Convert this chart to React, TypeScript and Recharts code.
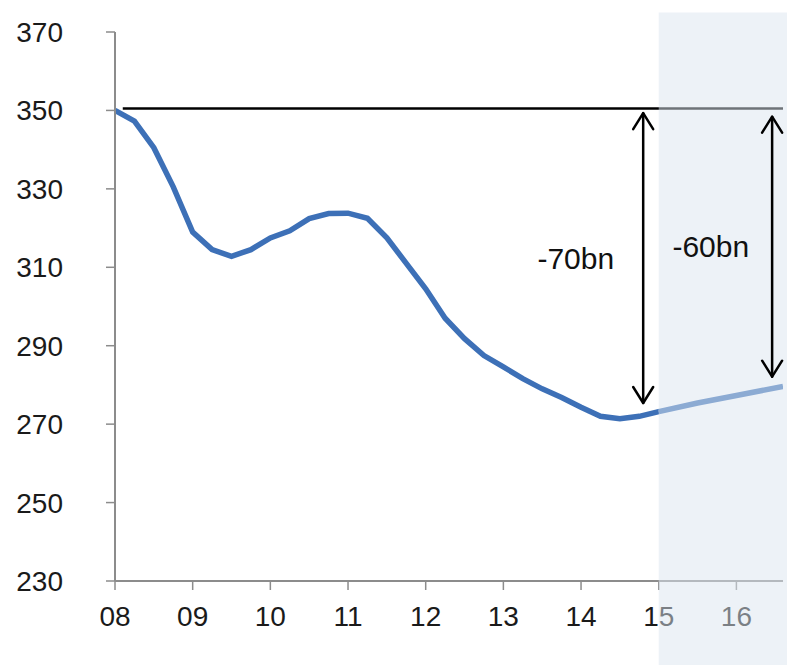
import { LineChart, Line, XAxis, YAxis, ReferenceArea, ReferenceLine } from "recharts";

const FONT = "'Liberation Sans', Arial, sans-serif";
const BLUE = "#3d70b7";
const AXIS = "#8c8c8c";

// quarterly readings, years since 2000
const ACTUAL_T = [
  8.0, 8.25, 8.5, 8.75, 9.0, 9.25, 9.5, 9.75, 10.0, 10.25, 10.5, 10.75, 11.0, 11.25, 11.5,
  11.75, 12.0, 12.25, 12.5, 12.75, 13.0, 13.25, 13.5, 13.75, 14.0, 14.25, 14.5, 14.75, 15.0,
];
const ACTUAL = [
  350, 347.3, 340.5, 330.5, 319, 314.5, 312.8, 314.5, 317.5, 319.3, 322.4, 323.7, 323.8, 322.5, 317.5,
  311, 304.5, 297, 291.8, 287.5, 284.6, 281.6, 279, 276.8, 274.3, 272, 271.4, 272, 273.2,
];
const FORECAST_T = [15.0, 15.5, 16.0, 16.6];
const FORECAST = [273.2, 275.4, 277.3, 279.6];

const YEARS = [8, 9, 10, 11, 12, 13, 14, 15, 16];
const Y_TICKS = [230, 250, 270, 290, 310, 330, 350, 370];

const BASELINE = 350.5;
const FORECAST_START = 15;
const GAPS = [
  { t: 14.8, top: 349.3, bottom: 275.4, label: "-70bn", offset: 29 },
  { t: 16.46, top: 348.4, bottom: 282.1, label: "-60bn", offset: 23 },
];

const rows = [
  ...ACTUAL_T.map((t, i) => ({ t, actual: ACTUAL[i], forecast: t === FORECAST_START ? FORECAST[0] : undefined })),
  ...FORECAST_T.slice(1).map((t, i) => ({ t, actual: undefined, forecast: FORECAST[i + 1] })),
];

function Arrow(props: any) {
  const { x1, y1, x2, y2 } = props;
  const w = 10;
  const h = 16;
  return (
    <g stroke="#000" strokeWidth={2.5} fill="none" strokeLinecap="round" strokeLinejoin="round">
      <line x1={x1} y1={y1} x2={x2} y2={y2} />
      <polyline points={`${x1 - w},${y1 + h} ${x1},${y1} ${x1 + w},${y1 + h}`} />
      <polyline points={`${x2 - w},${y2 - h} ${x2},${y2} ${x2 + w},${y2 - h}`} />
    </g>
  );
}

export default function App() {
  const tick = { fontSize: 28, fill: "#1a1a1a", fontFamily: FONT };
  return (
    <div style={{ position: "absolute", left: 0, top: 0, background: "#fff" }}>
      <LineChart width={787} height={665} data={rows} margin={{ top: 32, right: 4, bottom: 0, left: 0 }}>
        <XAxis
          type="number"
          dataKey="t"
          domain={[8, 16.6]}
          ticks={YEARS}
          allowDataOverflow
          tickFormatter={(v) => String(v).padStart(2, "0")}
          height={84}
          tick={tick}
          tickSize={9}
          tickMargin={16}
          axisLine={{ stroke: AXIS, strokeWidth: 2 }}
          tickLine={{ stroke: AXIS, strokeWidth: 1.5 }}
        />
        <YAxis
          type="number"
          domain={[230, 370]}
          ticks={Y_TICKS}
          allowDataOverflow
          width={115}
          tick={tick}
          tickSize={9}
          tickMargin={43}
          axisLine={{ stroke: AXIS, strokeWidth: 2 }}
          tickLine={{ stroke: AXIS, strokeWidth: 1.5 }}
        />
        <Line type="linear" dataKey="actual" stroke={BLUE} strokeWidth={5.5} dot={false} isAnimationActive={false} />
        <Line type="linear" dataKey="forecast" stroke={BLUE} strokeWidth={5.5} dot={false} isAnimationActive={false} />
        <ReferenceLine
          segment={[{ x: 8.1, y: BASELINE }, { x: 16.6, y: BASELINE }]}
          stroke="#000"
          strokeWidth={2.5}
          ifOverflow="visible"
          zIndex={450}
        />
        <ReferenceArea
          x1={FORECAST_START}
          x2={17}
          y1={200}
          y2={375}
          fill="#dce5ef"
          fillOpacity={0.5}
          stroke="none"
          ifOverflow="visible"
          zIndex={3000}
        />
        {GAPS.map((g) => (
          <ReferenceLine
            key={g.label}
            segment={[{ x: g.t, y: g.top }, { x: g.t, y: g.bottom }]}
            shape={Arrow}
            ifOverflow="visible"
            zIndex={3100}
            label={{ value: g.label, position: "left", offset: g.offset, fontSize: 30, fill: "#111", fontFamily: FONT, zIndex: 3200 }}
          />
        ))}
      </LineChart>
    </div>
  );
}
